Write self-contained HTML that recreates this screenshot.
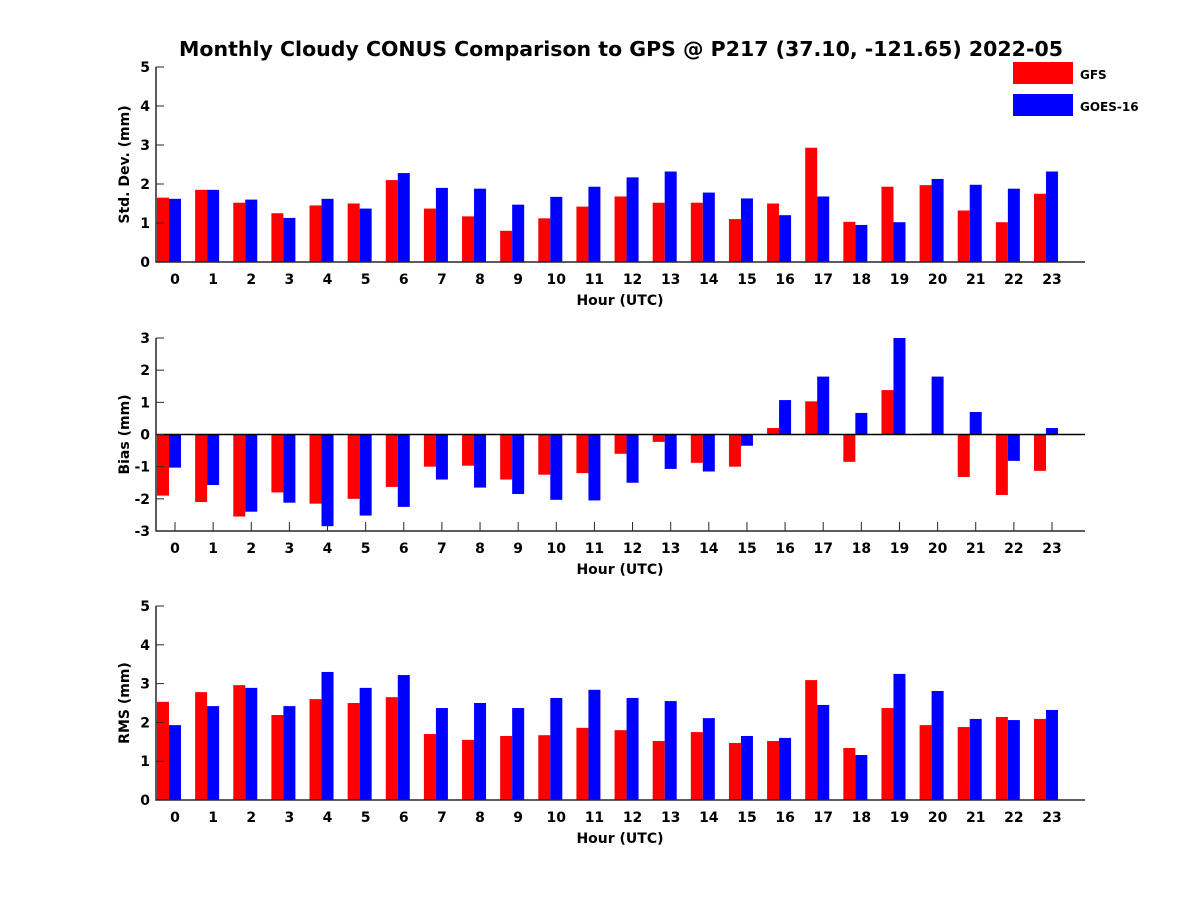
<!DOCTYPE html>
<html><head><meta charset="utf-8"><style>
body{margin:0;background:#fff}
svg{display:block;font-family:"DejaVu Sans","Liberation Sans",sans-serif;font-weight:bold}
</style></head><body>
<svg id="c" width="1200" height="900">
<text x="621" y="56" text-anchor="middle" font-size="20.5">Monthly Cloudy CONUS Comparison to GPS @ P217 (37.10, -121.65) 2022-05</text>
<g>
<rect x="1013" y="62" width="60" height="22" fill="#f00"/>
<text x="1080" y="79" font-size="12">GFS</text>
<rect x="1013" y="94" width="60" height="22" fill="#00f"/>
<text x="1080" y="111" font-size="12">GOES-16</text>
</g>
</svg>
<script>
const hours=[...Array(24).keys()];
const stdGFS=[1.65,1.85,1.52,1.25,1.45,1.5,2.1,1.37,1.17,0.8,1.12,1.42,1.68,1.52,1.52,1.1,1.5,2.93,1.03,1.93,1.97,1.32,1.02,1.75];
const stdGOES=[1.62,1.85,1.6,1.13,1.62,1.37,2.28,1.9,1.88,1.47,1.67,1.93,2.17,2.32,1.78,1.63,1.2,1.68,0.95,1.02,2.13,1.98,1.88,2.32];
const biasGFS=[-1.9,-2.1,-2.55,-1.8,-2.15,-2.0,-1.63,-1.0,-0.97,-1.4,-1.25,-1.2,-0.6,-0.23,-0.88,-1.0,0.2,1.03,-0.85,1.38,0.03,-1.32,-1.88,-1.13];
const biasGOES=[-1.03,-1.57,-2.4,-2.12,-2.85,-2.52,-2.25,-1.4,-1.65,-1.85,-2.03,-2.05,-1.5,-1.07,-1.15,-0.35,1.07,1.8,0.67,3.0,1.8,0.7,-0.82,0.2];
const rmsGFS=[2.53,2.78,2.96,2.19,2.6,2.5,2.65,1.7,1.55,1.65,1.67,1.86,1.8,1.52,1.75,1.47,1.52,3.09,1.34,2.37,1.93,1.88,2.14,2.09];
const rmsGOES=[1.93,2.42,2.89,2.42,3.3,2.89,3.22,2.37,2.5,2.37,2.63,2.84,2.63,2.55,2.11,1.65,1.6,2.45,1.16,3.25,2.81,2.09,2.06,2.32];
const stdTicks=[0,1,2,3,4,5], biasTicks=[-3,-2,-1,0,1,2,3], rmsTicks=[0,1,2,3,4,5];

const NS='http://www.w3.org/2000/svg', svg=document.getElementById('c');
function mk(t,a,p){const e=document.createElementNS(NS,t);for(const k in a)e.setAttribute(k,a[k]);(p||svg).appendChild(e);return e;}
const xL=156,xR=1085;
const xs=h=>175+38.13*h;
function panel(name,top,bot,ymin,ymax,ticks,ylabel,red,blue,xticks){
  const g=mk('g',{});
  
  
  const ys=v=>bot-(v-ymin)/(ymax-ymin)*(bot-top);
  const base=ys(Math.max(ymin,0));
  hours.forEach(h=>{
    [[red[h],-18,'#f00','gfs'],[blue[h],-6,'#00f','goes']].forEach(([v,o,c,n])=>{
      const y=ys(v),x=xs(h)+o;
      const r=mk('rect',{x:x,y:Math.min(y,base),width:12,height:Math.abs(base-y),fill:c},g);
      
      
    });
  });
  if(ymin<0){const z=mk('line',{x1:xL,x2:xR,y1:base,y2:base,stroke:'#000','stroke-width':1.5},g);
    }
  const ax=mk('path',{d:`M${xL},${top}V${bot}H${xR}`,fill:'none',stroke:'#262626','stroke-width':1.5},g);
  
  ticks.forEach(t=>{const y=ys(t);
    mk('line',{x1:xL,x2:xL+8,y1:y,y2:y,stroke:'#262626'},g);
    const tx=mk('text',{x:xL-6,y:y+5,'text-anchor':'end','font-size':14},g);tx.textContent=t;
    });
  hours.forEach(h=>{const x=xs(h);
    if(xticks) mk('line',{x1:x,x2:x,y1:bot,y2:bot-9,stroke:'#262626'},g);
    const tx=mk('text',{x:x,y:bot+22,'text-anchor':'middle','font-size':14},g);tx.textContent=h;
    });
  const xl=mk('text',{x:620,y:bot+43,'text-anchor':'middle','font-size':14},g);xl.textContent='Hour (UTC)';
  
  const yl=mk('text',{x:0,y:0,'text-anchor':'middle','font-size':14,transform:`translate(129,${(top+bot)/2}) rotate(-90)`},g);yl.textContent=ylabel;
  
}
panel('std',67,262,0,5,stdTicks,'Std. Dev. (mm)',stdGFS,stdGOES,false);
panel('bias',338,531,-3,3,biasTicks,'Bias (mm)',biasGFS,biasGOES,true);
panel('rms',606,800,0,5,rmsTicks,'RMS (mm)',rmsGFS,rmsGOES,false);
</script>
</body></html>
